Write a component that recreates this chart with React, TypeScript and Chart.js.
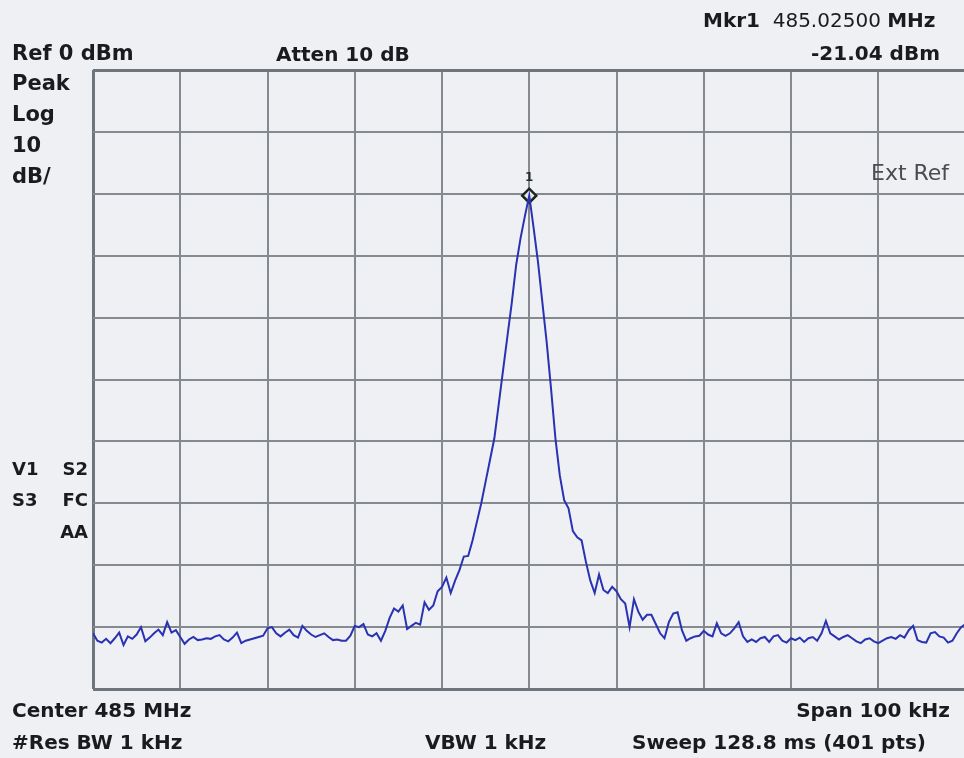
import React, { useEffect, useRef } from "react";
import { Chart, registerables } from "chart.js";

Chart.register(...registerables);

// Sweep: offset from center (kHz), 0.5 kHz per stored point
const SPAN_START_KHZ = -50;
const STEP_KHZ = 0.5;

// Trace amplitude (dBm)
const TRACE_DBM: number[] = [
  -91.0, -92.2, -92.5, -91.9, -92.6, -91.8, -90.9, -92.9, -91.5, -91.9,
  -91.2, -90.0, -92.3, -91.7, -91.0, -90.4, -91.3, -89.2, -90.9, -90.5,
  -91.6, -92.7, -92.0, -91.6, -92.1, -92.0, -91.8, -91.9, -91.5, -91.3,
  -92.0, -92.3, -91.7, -90.9, -92.6, -92.2, -92.0, -91.8, -91.6, -91.4,
  -90.2, -90.0, -91.0, -91.5, -90.9, -90.4, -91.3, -91.7, -89.8, -90.6,
  -91.2, -91.6, -91.3, -91.0, -91.6, -92.1, -92.0, -92.2, -92.2, -91.4,
  -89.8, -90.0, -89.5, -91.2, -91.5, -91.0, -92.2, -90.6, -88.5, -87.0,
  -87.5, -86.5, -90.3, -89.8, -89.3, -89.6, -86.0, -87.2, -86.5, -84.2,
  -83.5, -82.0, -84.5, -82.5, -80.8, -78.6, -78.5, -76.0, -73.0, -70.0,
  -66.5, -63.0, -59.5, -54.0, -48.5, -43.0, -37.6, -31.5, -27.2, -23.6,
  -20.3,
  -25.5, -31.0, -37.5, -44.0, -51.5, -59.5, -65.5, -69.5, -70.8,
  -74.5, -75.5, -76.0, -79.5, -82.5, -84.5, -81.5, -84.0, -84.5, -83.5,
  -84.2, -85.5, -86.2, -90.0, -85.5, -87.5, -88.8, -88.0, -88.0, -89.5,
  -91.0, -91.8, -89.2, -87.8, -87.6, -90.5, -92.2, -91.8, -91.5, -91.4,
  -90.6, -91.2, -91.5, -89.4, -91.0, -91.4, -91.0, -90.2, -89.2, -91.5,
  -92.4, -92.0, -92.4, -91.8, -91.6, -92.4, -91.5, -91.3, -92.2, -92.5,
  -91.8, -92.1, -91.7, -92.4, -91.8, -91.6, -92.2, -91.0, -89.0, -91.0,
  -91.5, -92.0, -91.6, -91.3, -91.8, -92.3, -92.6, -92.0, -91.8, -92.3,
  -92.6, -92.2, -91.8, -91.6, -91.9, -91.3, -91.7, -90.5, -89.8, -92.1,
  -92.4, -92.5, -91.0, -90.8, -91.5, -91.7, -92.5, -92.2, -91.0, -90.0,
  -89.5,
];

const X_MIN = -50;
const X_MAX = 50;
const X_STEP = 10;
const Y_MIN = -100;
const Y_MAX = 0;
const Y_STEP = 10;

const TOP_LEFT_LABELS = ["Peak", "Log", "10", "dB/"];
const BG = "#eef0f3";
const TEXT = "#1a1b1e";

const markerLabelPlugin = {
  id: "markerLabel",
  afterDatasetsDraw(chart: any) {
    const meta = chart.getDatasetMeta(1);
    const pt = meta && meta.data && meta.data[0];
    if (!pt) return;
    const ctx = chart.ctx;
    ctx.save();
    ctx.fillStyle = "#2a2a2a";
    ctx.font = "bold 12px 'DejaVu Sans'";
    ctx.textAlign = "center";
    ctx.textBaseline = "alphabetic";
    ctx.fillText("1", pt.x, pt.y - 15);
    ctx.restore();
  },
};

function Label(props: {
  text?: string;
  left?: number;
  right?: number;
  baseline: number;
  size: number;
  bold?: boolean;
  color?: string;
  children?: any;
}) {
  const { text, left, right, baseline, size, bold = true, color = TEXT, children } = props;
  const offset = (size - 1.164 * size) / 2 + 0.928 * size;
  const style: any = {
    position: "absolute",
    top: baseline - offset,
    fontFamily: "'DejaVu Sans', sans-serif",
    fontSize: size,
    fontWeight: bold ? 700 : 400,
    lineHeight: `${size}px`,
    color,
    whiteSpace: "pre",
  };
  if (left !== undefined) style.left = left;
  if (right !== undefined) style.right = 964 - right;
  return <div style={style}>{children ?? text}</div>;
}

export default function App() {
  const ref = useRef<HTMLCanvasElement | null>(null);

  useEffect(() => {
    if (!ref.current) return;
    const points = TRACE_DBM.map((v, i) => ({ x: SPAN_START_KHZ + i * STEP_KHZ, y: v }));
    let peak = points[0];
    for (const p of points) if (p.y > peak.y) peak = p;

    const edgeWidth = (c: any, min: number, max: number) =>
      c.tick && (c.tick.value === min || c.tick.value === max) ? 3 : 2;
    const edgeColor = (c: any, min: number, max: number) =>
      c.tick && (c.tick.value === min || c.tick.value === max) ? "#6f757c" : "#858a91";

    const chart = new Chart(ref.current, {
      type: "line",
      data: {
        datasets: [
          {
            data: points,
            borderColor: "#2832b2",
            borderWidth: 2,
            pointRadius: 0,
            tension: 0,
            fill: false,
          },
          {
            data: [{ x: peak.x, y: peak.y }],
            showLine: false,
            pointStyle: "rectRot",
            pointRadius: 7,
            backgroundColor: "#e4e6e8",
            borderColor: "#1c2620",
            borderWidth: 2.5,
          },
        ],
      },
      options: {
        responsive: false,
        animation: false,
        events: [],
        layout: { padding: { left: 93, top: 70, right: 6, bottom: 69 } },
        plugins: { legend: { display: false }, tooltip: { enabled: false } },
        scales: {
          x: {
            type: "linear",
            min: X_MIN,
            max: X_MAX,
            ticks: { display: false, stepSize: X_STEP },
            grid: {
              drawTicks: false,
              lineWidth: (c: any) => edgeWidth(c, X_MIN, X_MAX),
              color: (c: any) => edgeColor(c, X_MIN, X_MAX),
            },
            border: { display: false },
          },
          y: {
            type: "linear",
            min: Y_MIN,
            max: Y_MAX,
            ticks: { display: false, stepSize: Y_STEP },
            grid: {
              drawTicks: false,
              lineWidth: (c: any) => edgeWidth(c, Y_MIN, Y_MAX),
              color: (c: any) => edgeColor(c, Y_MIN, Y_MAX),
            },
            border: { display: false },
          },
        },
      },
      plugins: [markerLabelPlugin],
    } as any);
    return () => chart.destroy();
  }, []);

  return (
    <div
      style={{
        position: "absolute",
        left: 0,
        top: 0,
        width: 964,
        height: 758,
        overflow: "hidden",
        background: BG,
      }}
    >
      <canvas ref={ref} width={975} height={758} style={{ position: "absolute", left: 0, top: 0 }} />
      <Label left={703} baseline={27} size={20}>
        <span style={{ fontWeight: 700 }}>Mkr1</span>
        <span style={{ fontWeight: 400 }}>{"  485.02500 "}</span>
        <span style={{ fontWeight: 700 }}>MHz</span>
      </Label>
      <Label text="Ref 0 dBm" left={12} baseline={61} size={21} />
      <Label text="Atten 10 dB" left={276} baseline={61} size={20} />
      <Label text="-21.04 dBm" right={940} baseline={60} size={20} />
      {TOP_LEFT_LABELS.map((t, i) => (
        <Label key={t} text={t} left={12} baseline={91 + i * 31} size={21} />
      ))}
      <Label text="Ext Ref" left={871} baseline={181} size={22} bold={false} color="#4a4c50" />
      <Label text="V1" left={12} baseline={475} size={18} />
      <Label text="S2" right={88} baseline={475} size={18} />
      <Label text="S3" left={12} baseline={506} size={18} />
      <Label text="FC" right={88} baseline={506} size={18} />
      <Label text="AA" right={88} baseline={538} size={18} />
      <Label text="Center 485 MHz" left={12} baseline={717} size={20} />
      <Label text="Span 100 kHz" right={950} baseline={717} size={20} />
      <Label text="#Res BW 1 kHz" left={12} baseline={749} size={20} />
      <Label text="VBW 1 kHz" left={425} baseline={749} size={20} />
      <Label text="Sweep 128.8 ms (401 pts)" left={632} baseline={749} size={20} />
    </div>
  );
}
